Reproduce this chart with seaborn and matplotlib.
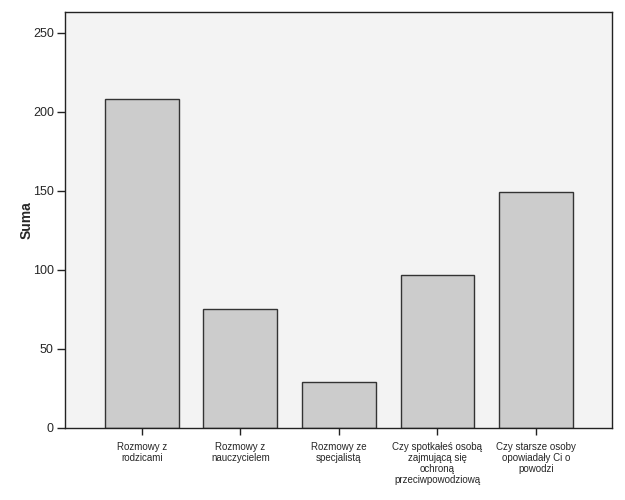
import matplotlib
matplotlib.use("Agg")
import matplotlib.pyplot as plt
import seaborn as sns
import pandas as pd

# Data
categories = [
    "Rozmowy z\nrodzicami",
    "Rozmowy z\nnauczycielem",
    "Rozmowy ze\nspecjalistą",
    "Czy spotkałeś osobą\nzajmującą się\nochroną\nprzeciwpowodziową",
    "Czy starsze osoby\nopowiadały Ci o\npowodzi",
]
sums = [208, 75, 29, 97, 149]
y_ticks = [0, 50, 100, 150, 200, 250]

sns.set_theme(style="white")
plt.rcParams["font.family"] = ["Liberation Sans", "DejaVu Sans"]

df = pd.DataFrame({"category": categories, "suma": sums})

fig = plt.figure(figsize=(6.25, 5), dpi=100)
ax = fig.add_axes([0.104, 0.144, 0.875, 0.832])
ax.set_facecolor("#F3F3F3")

sns.barplot(x="category", y="suma", data=df, color="#CCCCCC",
            edgecolor="#333333", linewidth=1, width=0.75, saturation=1, ax=ax)

ax.set_xlim(-0.78, 4.77)
ax.set_ylim(0, 263)
ax.set_yticks(y_ticks)
ax.set_xlabel("")
ax.set_ylabel("Suma", fontsize=10, fontweight="bold")
ax.yaxis.set_label_coords(-0.057, 0.5)

for side in ["top", "right", "left", "bottom"]:
    ax.spines[side].set_visible(True)
    ax.spines[side].set_color("#222222")
    ax.spines[side].set_linewidth(1)

ax.tick_params(axis="y", direction="out", length=6, width=1, color="#222222",
               labelsize=9, pad=2, left=True)
ax.tick_params(axis="x", direction="out", length=5, width=1, color="#222222",
               labelsize=7, pad=5, bottom=True)
for lbl in ax.get_xticklabels():
    lbl.set_linespacing(1.15)
    lbl.set_horizontalalignment("center")
ax.grid(False)

fig.savefig("out.png", dpi=100)
